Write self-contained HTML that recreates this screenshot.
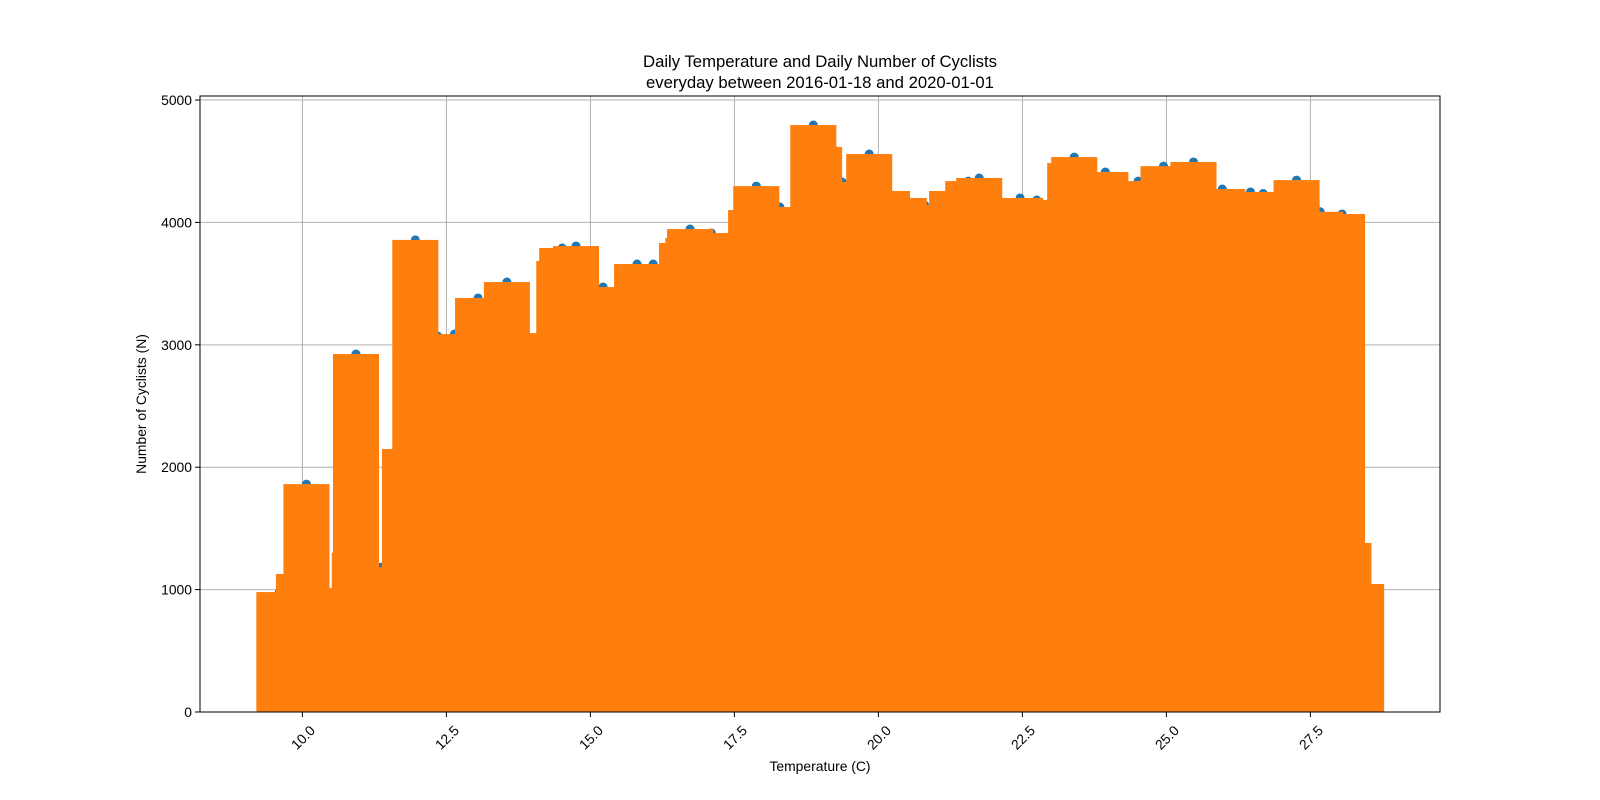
<!DOCTYPE html>
<html><head><meta charset="utf-8"><style>
body{margin:0;background:#fff}
svg{display:block;font-family:"Liberation Sans",sans-serif}
</style></head><body>
<svg id="chart" width="1600" height="800" viewBox="0 0 1600 800">
<g id="grid"></g>
<g id="marks"></g>
<rect x="200" y="96" width="1240" height="616" fill="none" stroke="#000" stroke-width="1"/>
<g id="ticks"></g>
<text x="820" y="67" text-anchor="middle" font-size="16.7">Daily Temperature and Daily Number of Cyclists</text>
<text x="820" y="88" text-anchor="middle" font-size="16.7">everyday between 2016-01-18 and 2020-01-01</text>
<text x="820" y="771" text-anchor="middle" font-size="13.9">Temperature (C)</text>
<text transform="translate(146,404) rotate(-90)" text-anchor="middle" font-size="13.9">Number of Cyclists (N)</text>
</svg>
<script>
const temps = [9.60,9.94,10.20,10.07,10.91,10.93,11.36,11.78,11.96,12.35,12.64,13.05,13.78,13.55,14.46,14.51,15.22,14.75,16.09,15.81,17.10,16.59,16.70,16.73,17.79,18.29,17.88,18.97,18.87,19.37,20.15,20.80,20.44,19.84,21.28,21.56,21.75,22.75,22.46,23.33,23.40,23.94,24.51,24.95,26.68,26.46,25.47,25.97,27.67,27.26,28.38,28.16,28.05];
const counts = [980,1128,1013,1862,1302,2925,1183,2149,3857,3072,3088,3383,3096,3513,3685,3791,3472,3807,3660,3660,3914,3832,3873,3946,4101,4126,4297,4617,4796,4330,4257,4142,4200,4559,4257,4338,4363,4183,4200,4485,4534,4412,4338,4460,4236,4249,4494,4273,4087,4346,1046,1381,4069];
const xTicks = [10.0,12.5,15.0,17.5,20.0,22.5,25.0,27.5];
const xTickLabels = ["10.0","12.5","15.0","17.5","20.0","22.5","25.0","27.5"];
const yTicks = [0,1000,2000,3000,4000,5000];
const yTickLabels = ["0","1000","2000","3000","4000","5000"];
const barWidth = 0.8;

const X0=200,X1=1440,Y0=712,Y1=96, xmin=8.222, xmax=29.75, ymin=0, ymax=5033;
const xs = t => X0 + (t-xmin)/(xmax-xmin)*(X1-X0);
const ys = v => Y0 - (v-ymin)/(ymax-ymin)*(Y0-Y1);
const NS="http://www.w3.org/2000/svg";
function mk(tag, attrs, parent){const e=document.createElementNS(NS,tag);for(const k in attrs)e.setAttribute(k,attrs[k]);parent.appendChild(e);return e;}
const grid=document.getElementById('grid'), marks=document.getElementById('marks'), ticks=document.getElementById('ticks');

xTicks.forEach((t,i)=>{
  const x=xs(t);
  const g=mk('line',{x1:x,x2:x,y1:Y1,y2:Y0,stroke:'#b0b0b0','stroke-width':1},grid);
  
  
  const tk=mk('line',{x1:x,x2:x,y1:Y0,y2:Y0+5,stroke:'#000','stroke-width':1},ticks);
  
  
  const lb=mk('text',{transform:`translate(${x+4},${Y0+29}) rotate(-45)`,'text-anchor':'middle','font-size':13.9},ticks);
  lb.textContent=xTickLabels[i];
  
  
});
yTicks.forEach((v,i)=>{
  const y=ys(v);
  const g=mk('line',{x1:X0,x2:X1,y1:y,y2:y,stroke:'#b0b0b0','stroke-width':1},grid);
  
  
  const tk=mk('line',{x1:X0-5,x2:X0,y1:y,y2:y,stroke:'#000','stroke-width':1},ticks);
  
  
  const lb=mk('text',{x:X0-8,y:y+5,'text-anchor':'end','font-size':13.9},ticks);
  lb.textContent=yTickLabels[i];
  
  
});
temps.forEach((t,i)=>{
  const c=mk('circle',{cx:xs(t),cy:ys(counts[i]),r:4.5,fill:'#1f77b4'},marks);
  
  
});
temps.forEach((t,i)=>{
  const xl=xs(t-barWidth/2), xr=xs(t+barWidth/2);
  const b=mk('rect',{x:xl,y:ys(counts[i]),width:xr-xl,height:ys(0)-ys(counts[i]),fill:'#ff7f0e'},marks);
  
  
});
</script>
</body></html>
